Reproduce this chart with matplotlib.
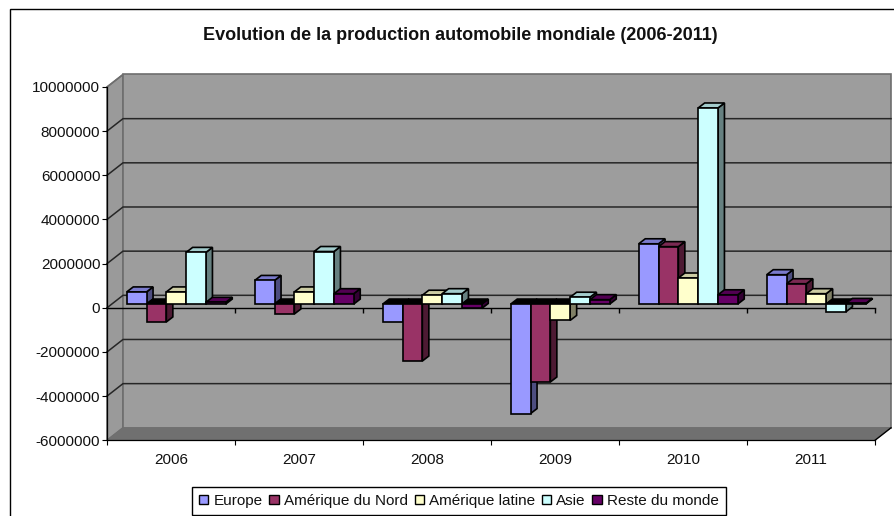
import matplotlib
matplotlib.use("Agg")
import matplotlib.pyplot as plt
from matplotlib.patches import Polygon, Patch, Rectangle
import matplotlib.colors as mc

plt.rcParams['font.family'] = ['Liberation Sans', 'DejaVu Sans']

years = ['2006', '2007', '2008', '2009', '2010', '2011']
europe = [550000, 1070000, -800000, -4960000, 2730000, 1330000]
amerique_nord = [-810000, -450000, -2580000, -3530000, 2600000, 920000]
amerique_latine = [550000, 550000, 400000, -740000, 1180000, 470000]
asie = [2340000, 2380000, 470000, 310000, 8880000, -350000]
reste = [80000, 470000, -200000, 200000, 420000, 30000]
series_names = ['Europe', 'Amérique du Nord', 'Amérique latine', 'Asie', 'Reste du monde']
series = [europe, amerique_nord, amerique_latine, asie, reste]
colors = ['#9999FF', '#993366', '#FFFFCC', '#CCFFFF', '#660066']
yticks = list(range(-6000000, 10000001, 2000000))

W, H = 895, 516
fig = plt.figure(figsize=(W / 100, H / 100), dpi=100, facecolor='white')
L, R, T, B = 107, 875, 87, 440.3
ax = fig.add_axes([L / W, (H - B) / H, (R - L) / W, (B - T) / H])
ax.set_xlim(0, len(years))
ax.set_ylim(yticks[0], yticks[-1])
ax.patch.set_visible(False)

# pixels to data units
ux = len(years) / (R - L)
uy = (yticks[-1] - yticks[0]) / (B - T)
wall_dx, wall_dy = 16 * ux, 12.5 * uy
depth_dx, depth_dy = 6.5 * ux, 5 * uy
shift_dx, shift_dy = (wall_dx - depth_dx) / 2 + 0.5 * ux, (wall_dy - depth_dy) / 2
ymin, ymax, n = yticks[0], yticks[-1], len(years)

def poly(pts, fc, ec='black', lw=1.0, z=1):
    ax.add_patch(Polygon(pts, closed=True, facecolor=fc, edgecolor=ec, linewidth=lw,
                         zorder=z, clip_on=False, joinstyle='miter'))

wall_edge = '#6e6e6e'
poly([(0, ymin), (wall_dx, ymin + wall_dy), (wall_dx, ymax + wall_dy), (0, ymax)], '#9a9a9a', wall_edge, 1.2, 1)
poly([(wall_dx, ymin + wall_dy), (n + wall_dx, ymin + wall_dy), (n + wall_dx, ymax + wall_dy), (wall_dx, ymax + wall_dy)],
     '#9d9d9d', wall_edge, 1.2, 1)
poly([(0, ymin), (n, ymin), (n + wall_dx, ymin + wall_dy), (wall_dx, ymin + wall_dy)], '#707070', '#707070', 0.5, 1.2)

for v in yticks:
    if v == ymin:
        continue
    if v == ymax:
        ax.plot([0, wall_dx], [v, v + wall_dy], color=wall_edge, lw=1.0, zorder=1.4, clip_on=False)
    else:
        ax.plot([0, wall_dx, n + wall_dx], [v, v + wall_dy, v + wall_dy], color='#262626', lw=1.1,
                zorder=1.4, clip_on=False)

# front edge of the floor, right-hand diagonal
ax.plot([n, n + wall_dx], [ymin, ymin + wall_dy], color='black', lw=1.0, zorder=1.5, clip_on=False)

# zero axis with its ticks
ax.plot([0, n], [0, 0], color='black', lw=1.0, zorder=1.6, clip_on=False)
tick_len = 5 * uy
ax.vlines(range(1, n + 1), -tick_len, 0, color='black', lw=1.0, zorder=1.6, clip_on=False)

# bars
bw = 19.8 * ux
offset = (1 - bw * len(series)) / 2
z = 3.0
edge_lw = 1.2
for c in range(n):
    for s, vals in enumerate(series):
        v = vals[c]
        col = colors[s]
        x0 = c + offset + s * bw + shift_dx
        x1 = x0 + bw
        base = shift_dy
        h = base + v
        rgb = mc.to_rgb(col)
        top_col = tuple(k * 0.8 for k in rgb) if v >= 0 else 'black'
        side_col = tuple(k * 0.5 for k in rgb)
        upper = max(base, h)
        lower = min(base, h)
        poly([(x1, lower), (x1 + depth_dx, lower + depth_dy), (x1 + depth_dx, upper + depth_dy), (x1, upper)],
             side_col, 'black', edge_lw, z); z += 0.001
        poly([(x0, upper), (x1, upper), (x1 + depth_dx, upper + depth_dy), (x0 + depth_dx, upper + depth_dy)],
             top_col, 'black', edge_lw, z); z += 0.001
        ax.bar(x0, h - base, width=bw, bottom=base, align='edge', color=col, edgecolor='black',
               linewidth=edge_lw, zorder=z, clip_on=False); z += 0.001

# axes furniture
ax.set_yticks(yticks)
ax.set_yticklabels([str(v) for v in yticks], fontsize=11, color='#111111')
ax.set_xticks(range(n + 1))
ax.set_xticklabels([''] * (n + 1))
ax.set_xticks([i + 0.5 for i in range(n)], minor=True)
ax.set_xticklabels(years, minor=True, fontsize=11, color='#111111')
ax.tick_params(axis='y', length=3.6, width=0.8, pad=1.2)
ax.tick_params(axis='x', which='major', length=3.6, width=0.8)
ax.tick_params(axis='x', which='minor', length=0, pad=9)
for side in ('top', 'right'):
    ax.spines[side].set_visible(False)
for side in ('left', 'bottom'):
    ax.spines[side].set_linewidth(0.9)

# chart frame (open on the right and bottom, cut by the image edge)
fig.add_artist(Rectangle((10 / W, -0.1), 1.2, (H - 9) / H + 0.1, transform=fig.transFigure,
                         facecolor='none', edgecolor='black', linewidth=1.0, zorder=0))

fig.text(460.5 / W, (H - 35.5) / H, 'Evolution de la production automobile mondiale (2006-2011)',
         ha='center', va='center', fontsize=12.95, fontweight='bold', color='#111111')

handles = [Patch(facecolor=c, edgecolor='black', linewidth=1.0) for c in colors]
leg = fig.legend(handles, series_names, ncol=5, loc='center', bbox_to_anchor=(459 / W, (H - 501) / H),
                 fontsize=11, fancybox=False, framealpha=1, edgecolor='black',
                 handlelength=0.6, handleheight=0.6, handletextpad=0.35, columnspacing=0.43,
                 borderpad=0.45, borderaxespad=0)
leg.get_frame().set_linewidth(1.0)
for t in leg.get_texts():
    t.set_color('#111111')

fig.savefig('out.png', dpi=100)
